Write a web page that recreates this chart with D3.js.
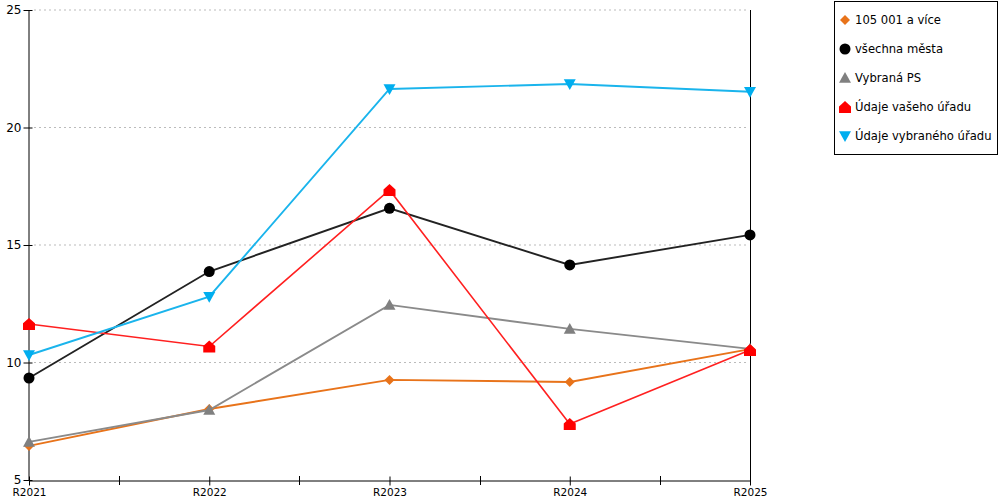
<!DOCTYPE html>
<html>
<head>
<meta charset="utf-8">
<script src="https://cdn.jsdelivr.net/npm/d3@7"></script>
<style>
  body { margin: 0; background: #fff; }
  text { font-family: "DejaVu Sans", Verdana, sans-serif; }
</style>
</head>
<body>
<script>
var categories = ['R2021', 'R2022', 'R2023', 'R2024', 'R2025'];
var seriesNames = ['105 001 a více', 'všechna města', 'Vybraná PS', 'Údaje vašeho úřadu', 'Údaje vybraného úřadu'];
var velkaMesta = [6.45, 8.02, 9.26, 9.17, 10.57];
var vsechnaMesta = [9.34, 13.87, 16.56, 14.15, 15.43];
var vybranaPS = [6.62, 7.98, 12.45, 11.43, 10.58];
var vasUrad = [11.64, 10.68, 17.34, 7.38, 10.53];
var vybranyUrad = [10.32, 12.8, 21.64, 21.85, 21.52];
var yTicks = [5, 10, 15, 20, 25];

var colors = ['#e8731a', '#000000', '#808080', '#ff0000', '#00aeef'];
var lineColors = ['#e8731a', '#222222', '#8a8a8a', '#ff2020', '#1ab4ec'];
var values = [velkaMesta, vsechnaMesta, vybranaPS, vasUrad, vybranyUrad];

var svg = d3.select('body').append('svg').attr('width', 1000).attr('height', 500);

var x = d3.scalePoint().domain(categories).range([29, 750]);
var y = d3.scaleLinear().domain([5, 25]).range([480, 10]);

// gridlines
svg.selectAll('line.grid')
    .data(yTicks.slice(1))
    .enter().append('line')
    .attr('class', 'grid')
    .attr('x1', 34).attr('x2', 748)
    .attr('y1', function(d){ return y(d); })
    .attr('y2', function(d){ return y(d); })
    .attr('stroke', '#bbbbbb')
    .attr('stroke-dasharray', '2,3');

// right border line
svg.append('line')
    .attr('x1', 750.5).attr('x2', 750.5)
    .attr('y1', 10).attr('y2', 480)
    .attr('stroke', '#000');

// y axis
var yAxis = svg.append('g').attr('transform', 'translate(28.5,0)')
    .call(d3.axisLeft(y).tickValues(yTicks).tickSize(0).tickPadding(7));
yAxis.select('.domain').attr('stroke', '#000');
yAxis.selectAll('.tick line').attr('x1', -5).attr('x2', 4).attr('stroke', '#000');
yAxis.selectAll('text').attr('font-size', 12).attr('fill', '#000')
    .attr('font-family', '"DejaVu Sans", sans-serif');

// x axis
var step = x.step();
var xAxis = svg.append('g').attr('transform', 'translate(0,480.5)')
    .call(d3.axisBottom(x).tickSize(0).tickPadding(8));
xAxis.select('.domain').attr('stroke', '#000');
xAxis.selectAll('.tick line').attr('y1', -4).attr('y2', 5).attr('stroke', '#000');
xAxis.selectAll('text').attr('font-size', 10.5).attr('fill', '#000')
    .attr('font-family', '"DejaVu Sans", sans-serif');
// midway ticks
svg.selectAll('line.minor')
    .data(categories.slice(1))
    .enter().append('line')
    .attr('class', 'minor')
    .attr('x1', function(d){ return Math.round(x(d) - step / 2) + 0.5; })
    .attr('x2', function(d){ return Math.round(x(d) - step / 2) + 0.5; })
    .attr('y1', 476).attr('y2', 485)
    .attr('stroke', '#000');

// marker shapes
function markerPath(i, s) {
    if (i === 0) return 'M0,' + (-s) + 'L' + s + ',0L0,' + s + 'L' + (-s) + ',0Z';
    if (i === 1) return 'M' + (-s) + ',0A' + s + ',' + s + ' 0 1,0 ' + s + ',0A' + s + ',' + s + ' 0 1,0 ' + (-s) + ',0Z';
    if (i === 2) return 'M0,' + (-s) + 'L' + s + ',' + (s * 0.8) + 'L' + (-s) + ',' + (s * 0.8) + 'Z';
    if (i === 3) return 'M0,' + (-s) + 'L' + s + ',' + (-s * 0.1) + 'L' + s + ',' + s + 'L' + (-s) + ',' + s + 'L' + (-s) + ',' + (-s * 0.1) + 'Z';
    return 'M0,' + s + 'L' + s + ',' + (-s * 0.8) + 'L' + (-s) + ',' + (-s * 0.8) + 'Z';
}
var sizes = [5, 5.5, 6, 6, 6];

var line = d3.line()
    .x(function(d, i){ return x(categories[i]); })
    .y(function(d){ return y(d); });

values.forEach(function(vals, s) {
    svg.append('path')
        .attr('d', line(vals))
        .attr('fill', 'none')
        .attr('stroke', lineColors[s])
        .attr('stroke-width', s === 3 ? 1.6 : 1.9);
    svg.selectAll('path.m' + s)
        .data(vals)
        .enter().append('path')
        .attr('class', 'm' + s)
        .attr('transform', function(d, i){ return 'translate(' + x(categories[i]) + ',' + y(d) + ')'; })
        .attr('d', markerPath(s, sizes[s]))
        .attr('fill', colors[s]);
});

// legend
var legend = svg.append('g');
legend.append('rect')
    .attr('x', 834.5).attr('y', 1.5)
    .attr('width', 163).attr('height', 153)
    .attr('fill', '#fff').attr('stroke', '#000');
seriesNames.forEach(function(name, s) {
    var ly = 20 + s * 29;
    legend.append('path')
        .attr('transform', 'translate(845,' + ly + ')')
        .attr('d', markerPath(s, sizes[s]))
        .attr('fill', colors[s]);
    legend.append('text')
        .attr('x', 855).attr('y', ly)
        .attr('dy', '0.35em')
        .attr('font-size', 11.6)
        .text(name);
});
</script>
</body>
</html>
